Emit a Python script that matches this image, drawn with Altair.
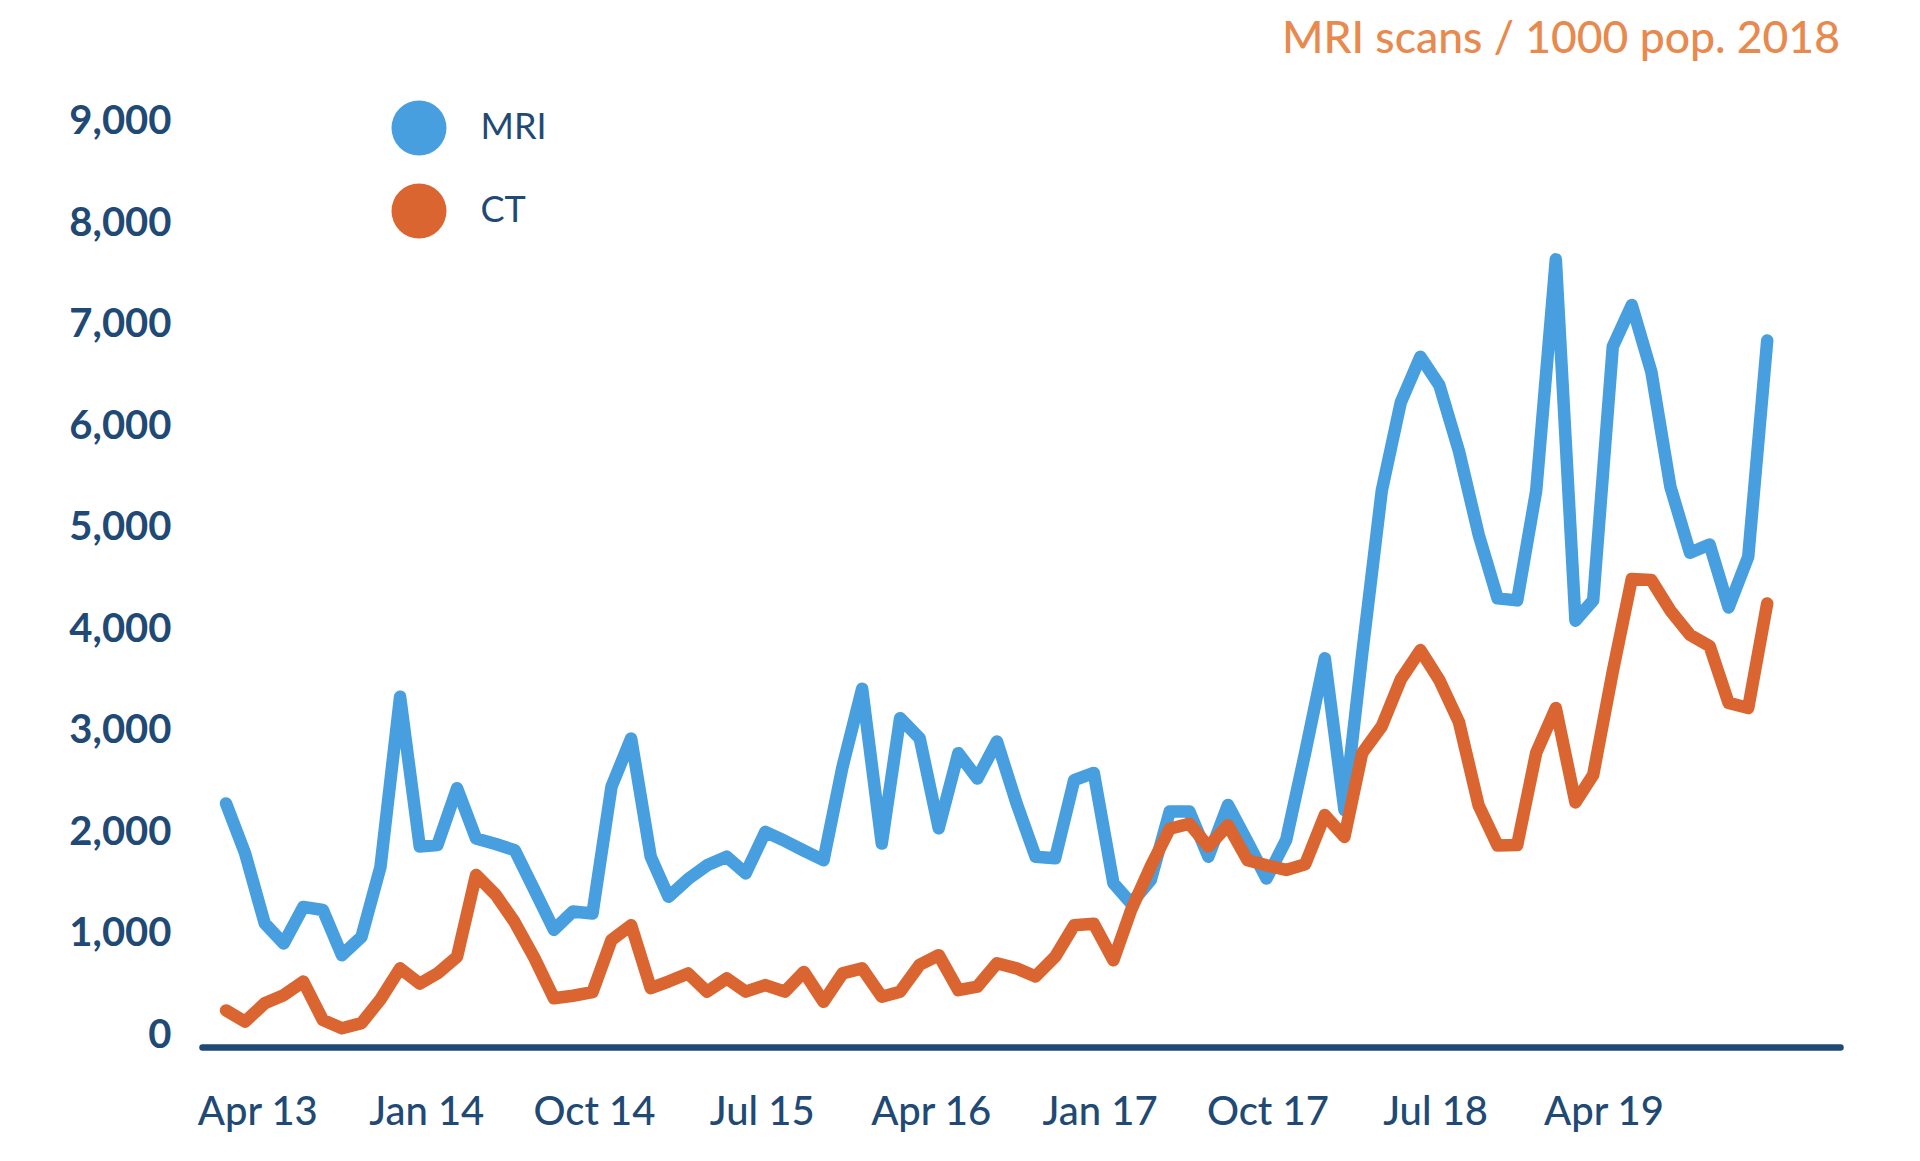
import datetime as dt
import altair as alt
import pandas as pd

# ---------------- data ----------------
START_MONTH = "2013-04-01"
mri = [2400, 1910, 1220, 1020, 1380, 1350, 905, 1085, 1775, 3450,
       1975, 1990, 2550, 2055, 2000, 1940, 1550, 1155, 1335, 1315,
       2565, 3040, 1875, 1480, 1655, 1790, 1875, 1710, 2120, 2030,
       1935, 1840, 2760, 3530, 2005, 3240, 3040, 2155, 2895, 2645,
       3010, 2400, 1875, 1860, 2630, 2700, 1615, 1415, 1645, 2320,
       2320, 1875, 2385, 2020, 1660, 2040, 2900, 3830, 2335, 3870,
       5480, 6350, 6800, 6520, 5870, 5050, 4420, 4400, 5480, 7760,
       4200, 4400, 6900, 7310, 6650, 5520, 4870, 4950, 4330, 4830,
       6960]
ct = [360, 250, 430, 510, 645, 265, 185, 235, 470, 775,
      625, 725, 890, 1695, 1500, 1230, 880, 480, 505, 540,
      1055, 1200, 580, 645, 725, 545, 675, 545, 610, 545,
      740, 445, 725, 775, 495, 545, 810, 905, 560, 595,
      825, 775, 695, 890, 1200, 1215, 855, 1350, 1780, 2150,
      2200, 1975, 2185, 1840, 1790, 1745, 1800, 2285, 2070, 2895,
      3160, 3620, 3910, 3615, 3200, 2380, 1985, 1990, 2900, 3340,
      2410, 2680, 3700, 4610, 4600, 4300, 4060, 3950, 3390, 3340,
      4370]
series = ["MRI", "CT"]
tick_labels = ["Apr 13", "Jan 14", "Oct 14", "Jul 15", "Apr 16",
               "Jan 17", "Oct 17", "Jul 18", "Apr 19"]
y_ticks = [0, 1000, 2000, 3000, 4000, 5000, 6000, 7000, 8000, 9000]
title_text = "MRI scans / 1000 pop. 2018"

# ---------------- style ----------------
BLUE = "#479FDF"
ORANGE = "#DB6530"
TITLE_ORANGE = "#E8894D"
NAVY = "#1F4A75"
FONT = "Lato"

months = pd.date_range(START_MONTH, periods=len(mri), freq="MS")
df = pd.DataFrame({"month": months, "MRI": mri, "CT": ct})

tick_dates = [dt.datetime.strptime(t, "%b %y") for t in tick_labels]
ticks_df = pd.DataFrame({"tick": tick_dates, "label": tick_labels})
legend_df = pd.DataFrame({"series": series})

y_scale = alt.Scale(domain=[0, 9000], nice=False, zero=True)
y_axis = alt.Axis(values=y_ticks, format=",.0f", title=None, domain=False,
                  ticks=False, tickSize=0, grid=False, labelFont=FONT,
                  labelFontSize=40, labelFontWeight="bold", labelColor=NAVY,
                  labelBaseline="alphabetic", labelPadding=31)

x_data_scale = alt.Scale(domain=[alt.DateTime(year=2013, month=2, date=22),
                                 alt.DateTime(year=2020, month=3, date=25)])
x_label_scale = alt.Scale(domain=[alt.DateTime(year=2013, month=1, date=1),
                                  alt.DateTime(year=2020, month=4, date=20)])

line_style = dict(strokeWidth=12.5, strokeCap="round", strokeJoin="round")

mri_line = alt.Chart(df).mark_line(color=BLUE, **line_style).encode(
    x=alt.X("month:T", scale=x_data_scale, axis=None),
    y=alt.Y("MRI:Q", scale=y_scale, axis=y_axis),
)
ct_line = alt.Chart(df).mark_line(color=ORANGE, **line_style).encode(
    x=alt.X("month:T", scale=x_data_scale, axis=None),
    y=alt.Y("CT:Q", scale=y_scale, axis=y_axis),
)

label_layer = alt.Chart(ticks_df).mark_point(opacity=0).encode(
    x=alt.X("tick:T", scale=x_label_scale,
            axis=alt.Axis(orient="bottom",
                          values=[alt.DateTime(year=d.year, month=d.month, date=1)
                                  for d in tick_dates],
                          format="%b %y", title=None, grid=False, ticks=False,
                          tickSize=0, labelFont=FONT, labelFontSize=40,
                          labelFontWeight=500,
                          labelColor=NAVY, labelBaseline="alphabetic",
                          labelPadding=77, labelFlush=False, labelOverlap=False,
                          domain=True, domainColor=NAVY, domainWidth=6.5,
                          domainCap="round")),
)

legend_layer = alt.Chart(legend_df).mark_circle(opacity=0).encode(
    color=alt.Color("series:N",
                    scale=alt.Scale(domain=series, range=[BLUE, ORANGE]),
                    legend=alt.Legend(orient="none", legendX=189.5, legendY=-33,
                                      title=None, direction="vertical",
                                      symbolType="circle", symbolSize=3025,
                                      symbolOpacity=1, symbolStrokeWidth=0,
                                      labelFont=FONT, labelFontSize=36,
                                      labelColor=NAVY, labelOffset=34,
                                      rowPadding=28, padding=0)),
)

chart = alt.layer(mri_line, ct_line, label_layer, legend_layer).resolve_scale(
    x="independent"
).properties(
    width=1638,
    height=913.5,
    padding={"left": 194, "top": 125.5, "right": 72, "bottom": 100},
    autosize=alt.AutoSizeParams(type="none"),
    title=alt.TitleParams(text=title_text, anchor="end", frame="group",
                          font=FONT, fontSize=44.5, fontWeight=500,
                          color=TITLE_ORANGE, baseline="alphabetic", offset=3),
).configure_view(stroke=None)

chart.save("out.html", embed_options={"renderer": "svg", "actions": False})
